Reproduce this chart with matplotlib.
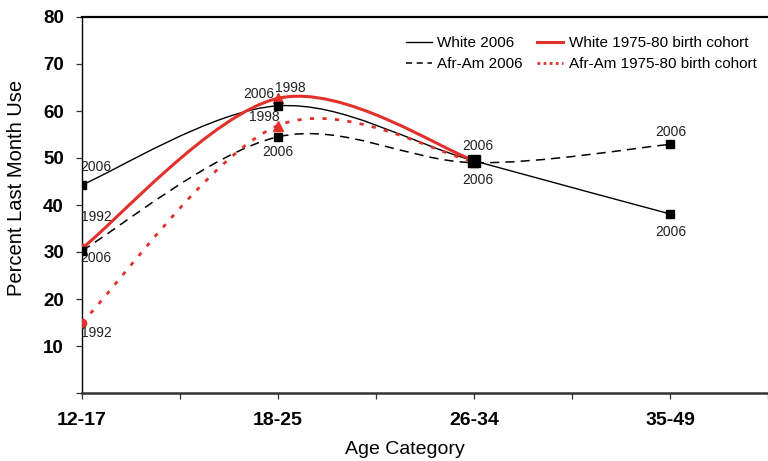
import matplotlib
matplotlib.use('Agg')
import matplotlib.pyplot as plt
from matplotlib.path import Path
from matplotlib.patches import PathPatch
from matplotlib.lines import Line2D

# data
ages = ['12-17', '18-25', '26-34', '35-49']
white_2006 = [44.3, 61.1, 49.4, 38.1]
afram_2006 = [30.3, 54.5, 49.0, 52.9]
white_cohort = [30.8, 62.7, 49.5]
afram_cohort = [15.0, 56.9, 49.2]
cohort_years = ['1992', '1998', '2006']

RED = '#e2302a'
pos = list(range(len(ages)))


def smooth_path(xs, ys):
    # excel style smoothed line: cubic bezier through every point
    pts = list(zip(xs, ys))
    verts = [pts[0]]
    codes = [Path.MOVETO]
    n = len(pts)
    for i in range(n - 1):
        p0 = pts[max(i - 1, 0)]
        p1 = pts[i]
        p2 = pts[i + 1]
        p3 = pts[min(i + 2, n - 1)]
        c1 = (p1[0] + (p2[0] - p0[0]) / 6, p1[1] + (p2[1] - p0[1]) / 6)
        c2 = (p2[0] - (p3[0] - p1[0]) / 6, p2[1] - (p3[1] - p1[1]) / 6)
        verts += [c1, c2, p2]
        codes += [Path.CURVE4] * 3
    return Path(verts, codes)


fig = plt.figure(figsize=(7.68, 4.61), dpi=100)
ax = fig.add_axes([82 / 768, 68 / 461, 1 - 82 / 768, 376 / 461])

styles = [
    (pos, white_2006, dict(color='black', lw=1.0, ls='-')),
    (pos, afram_2006, dict(color='black', lw=1.1, ls=(0, (6, 4)))),
    (pos[:3], white_cohort, dict(color=RED, lw=2.2, ls='-')),
    (pos[:3], afram_cohort, dict(color=RED, lw=2.0, ls=(0, (1.5, 3.0)))),
]
for xs, ys, st in styles:
    ax.add_patch(PathPatch(smooth_path(xs, ys), fill=False, capstyle='butt', **st))

# markers
ax.plot(pos[:1], white_cohort[:1], 'o', color=RED, ms=6, zorder=3)
ax.plot(pos[:1], afram_cohort[:1], 'o', color=RED, ms=6, zorder=3)
ax.plot(pos[1:2], white_cohort[1:2], '^', color=RED, ms=7, zorder=3)
ax.plot(pos[1:2], afram_cohort[1:2], '^', color=RED, ms=7, zorder=3)
ax.plot(pos, white_2006, 's', color='black', ms=5.5, zorder=4)
ax.plot(pos, afram_2006, 's', color='black', ms=5.5, zorder=4)
ax.plot(pos[2:3], [white_2006[2]], 's', color='black', ms=8, zorder=4)

# point labels
lab = dict(textcoords='offset pixels', ha='center', va='center', fontsize=10,
           family='Liberation Sans', color='#222222')
ax.annotate('2006', (0, white_2006[0]), xytext=(14, 18), **lab)
ax.annotate(cohort_years[0], (0, white_cohort[0]), xytext=(14, 31), **lab)
ax.annotate('2006', (0, afram_2006[0]), xytext=(14, -7), **lab)
ax.annotate(cohort_years[0], (0, afram_cohort[0]), xytext=(14, -10), **lab)
ax.annotate('2006', (1, white_2006[1]), xytext=(-19, 12), **lab)
ax.annotate(cohort_years[1], (1, white_cohort[1]), xytext=(12, 10), **lab)
ax.annotate(cohort_years[1], (1, afram_cohort[1]), xytext=(-14, 9), **lab)
ax.annotate('2006', (1, afram_2006[1]), xytext=(0, -15), **lab)
ax.annotate('2006', (2, white_2006[2]), xytext=(4, 15), **lab)
ax.annotate('2006', (2, afram_2006[2]), xytext=(4, -17), **lab)
ax.annotate('2006', (3, afram_2006[3]), xytext=(1, 12), **lab)
ax.annotate('2006', (3, white_2006[3]), xytext=(1, -18), **lab)

ax.set_xlim(0, 686 / 198.3)
ax.set_ylim(0, 80)
ax.set_xticks(pos)
ax.set_xticklabels(ages, family='Liberation Sans', fontweight='bold', fontsize=14)
ax.set_xticks([0.5, 1.5, 2.5, 3.5], minor=True)
ax.set_yticks(range(0, 81, 10))
ax.set_yticklabels([''] + [str(v) for v in range(10, 81, 10)],
                   family='Liberation Sans', fontweight='bold', fontsize=13.5)
ax.tick_params(axis='both', which='both', direction='out', length=4, width=0.9,
               color='#333333')
ax.tick_params(axis='x', pad=10)
ax.tick_params(axis='y', pad=9)

ax.spines['right'].set_visible(False)
ax.spines['top'].set_linewidth(1.6)
ax.spines['bottom'].set_linewidth(1.8)
ax.spines['bottom'].set_color('#333333')
ax.spines['left'].set_linewidth(1.0)

ax.set_xlabel('Age Category', family='Liberation Sans', fontsize=14)
ax.xaxis.set_label_coords((405 - 82) / 686, -0.128)
ax.set_ylabel('Percent Last Month Use', family='Liberation Sans', fontsize=14.5)
ax.yaxis.set_label_coords(-0.082, 0.545)

handles = [
    Line2D([], [], color='black', lw=1.0),
    Line2D([], [], color='black', lw=1.1, ls=(0, (4, 3))),
    Line2D([], [], color=RED, lw=2.2),
    Line2D([], [], color=RED, lw=2.0, ls=(0, (1, 1.2))),
]
labels = ['White 2006', 'Afr-Am 2006', 'White 1975-80 birth cohort',
          'Afr-Am 1975-80 birth cohort']
fig.legend(handles, labels, ncol=2, frameon=False, loc='upper left',
           bbox_to_anchor=(406 / 768, 1 - 36 / 461), borderpad=0,
           borderaxespad=0, handlelength=1.7, handletextpad=0.35,
           columnspacing=0.95, labelspacing=0.45,
           prop={'family': 'Liberation Sans', 'size': 11})

fig.savefig('out.png', dpi=100)
